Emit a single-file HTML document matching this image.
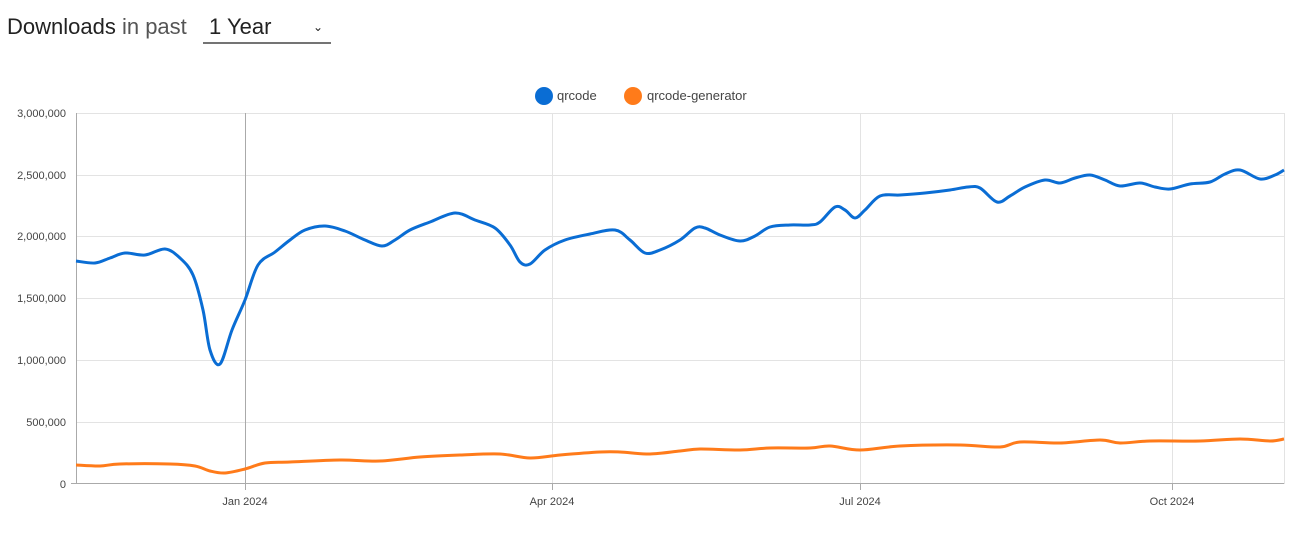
<!DOCTYPE html>
<html><head><meta charset="utf-8"><style>
body{margin:0;width:1310px;height:540px;background:#fff;font-family:"Liberation Sans",sans-serif;overflow:hidden}
svg{position:absolute;left:0;top:0}
</style></head><body>
<svg width="1310" height="540" xmlns="http://www.w3.org/2000/svg">
<text x="7" y="34" font-size="22" fill="#222" font-family="Liberation Sans">Downloads <tspan fill="#555">in past</tspan></text>
<text x="209" y="34" font-size="22" fill="#222">1 Year</text>
<text x="313" y="31" font-size="12" fill="#222">⌄</text>
<line x1="203" y1="43" x2="331" y2="43" stroke="#222" stroke-width="1.2"/>
<circle cx="544" cy="96" r="9" fill="#0a6dd4"/><text x="557" y="100" font-size="13" fill="#444">qrcode</text>
<circle cx="633" cy="96" r="9" fill="#ff7b1a"/><text x="647" y="100" font-size="13" fill="#444">qrcode-generator</text>
<g stroke="#e3e3e3" stroke-width="1">
<line x1="76" y1="113.5" x2="1284" y2="113.5"/><line x1="76" y1="175.5" x2="1284" y2="175.5"/>
<line x1="76" y1="236.5" x2="1284" y2="236.5"/><line x1="76" y1="298.5" x2="1284" y2="298.5"/>
<line x1="76" y1="360.5" x2="1284" y2="360.5"/><line x1="76" y1="422.5" x2="1284" y2="422.5"/>
<line x1="552.5" y1="113" x2="552.5" y2="484"/><line x1="860.5" y1="113" x2="860.5" y2="484"/>
<line x1="1172.5" y1="113" x2="1172.5" y2="484"/><line x1="1284.5" y1="113" x2="1284.5" y2="484"/>
</g>
<line x1="245.5" y1="113" x2="245.5" y2="490" stroke="#aaa"/>
<line x1="76.5" y1="113" x2="76.5" y2="484" stroke="#aaa"/>
<line x1="71" y1="483.5" x2="1284" y2="483.5" stroke="#aaa"/>
<g stroke="#aaa"><line x1="552.5" y1="484" x2="552.5" y2="490"/><line x1="860.5" y1="484" x2="860.5" y2="490"/><line x1="1172.5" y1="484" x2="1172.5" y2="490"/></g>
<g font-size="11" fill="#444" text-anchor="end">
<text x="66" y="117">3,000,000</text><text x="66" y="179">2,500,000</text><text x="66" y="240">2,000,000</text>
<text x="66" y="302">1,500,000</text><text x="66" y="364">1,000,000</text><text x="66" y="426">500,000</text><text x="66" y="488">0</text>
</g>
<g font-size="11" fill="#444" text-anchor="middle">
<text x="245" y="505">Jan 2024</text><text x="552" y="505">Apr 2024</text><text x="860" y="505">Jul 2024</text><text x="1172" y="505">Oct 2024</text>
</g>
<path id="b" fill="none" stroke="#0a6dd4" stroke-width="3" stroke-linejoin="round"/>
<path id="o" fill="none" stroke="#ff7b1a" stroke-width="3" stroke-linejoin="round"/>
</svg>
<script>
function cr(p){let d="M"+p[0][0]+","+p[0][1];for(let i=0;i<p.length-1;i++){const a=p[i-1]||p[i],b=p[i],c=p[i+1],e=p[i+2]||c;d+=" C"+(b[0]+(c[0]-a[0])/6)+","+(b[1]+(c[1]-a[1])/6)+" "+(c[0]-(e[0]-b[0])/6)+","+(c[1]-(e[1]-b[1])/6)+" "+c[0]+","+c[1];}return d;}
const B=[[76,261],[95,263],[110,258],[125,253],[145,255],[165,249],[180,258],[193,275],[203,310],[210,350],[220,364],[232,330],[245,300],[258,265],[275,252],[290,240],[305,230],[325,226],[345,231],[365,240],[382,246],[395,240],[410,230],[430,222],[455,213],[475,220],[495,228],[510,245],[520,262],[530,264],[545,250],[565,240],[590,234],[615,230],[630,240],[645,253],[660,250],[680,240],[695,228],[705,228],[720,235],[740,241],[755,236],[770,227],[790,225],[810,225],[820,222],[835,207],[845,210],[855,218],[865,210],[880,196],[900,195],[925,193],[950,190],[968,187],[980,188],[997,202],[1010,196],[1025,187],[1045,180],[1060,183],[1075,178],[1090,175],[1105,180],[1120,186],[1140,183],[1155,187],[1170,189],[1190,184],[1210,182],[1225,174],[1240,170],[1260,179],[1275,175],[1284,170]];
const O=[[76,465],[100,466],[120,464],[170,464],[195,466],[210,471],[225,473],[245,469],[265,463],[290,462],[340,460],[380,461],[420,457],[460,455],[500,454],[530,458],[560,455],[600,452],[620,452],[650,454],[680,451],[700,449],[740,450],[770,448],[810,448],[830,446],[860,450],[900,446],[960,445],[1000,447],[1020,442],[1060,443],[1100,440],[1120,443],[1150,441],[1200,441],[1240,439],[1270,441],[1284,439]];
document.getElementById("b").setAttribute("d",cr(B));
document.getElementById("o").setAttribute("d",cr(O));
</script>
</body></html>
